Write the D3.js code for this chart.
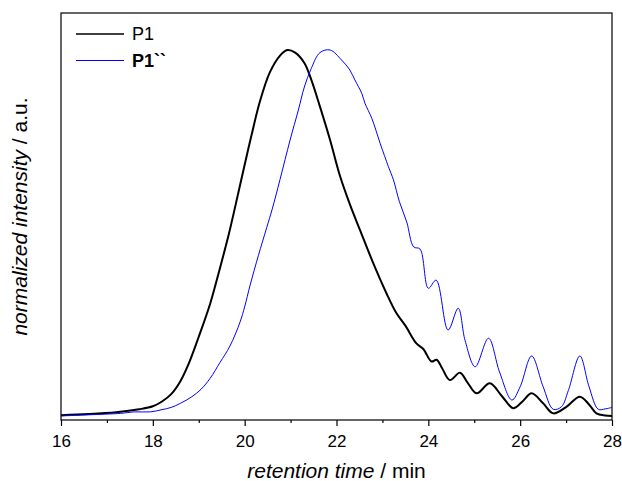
<!DOCTYPE html>
<html>
<head>
<meta charset="utf-8">
<script src="https://cdn.jsdelivr.net/npm/d3@7"></script>
<style>
body { margin: 0; background: #fff; }
svg text { font-family: Arial, "Liberation Sans", sans-serif; }
</style>
</head>
<body>
<div id="chart"></div>
<script>
// retention time (min) and normalized intensity
var p1_time = [16.0, 16.6, 17.2, 17.7, 18.0, 18.2, 18.4, 18.6, 18.8, 19.0, 19.25, 19.45, 19.65, 19.8,
	20.0, 20.15, 20.33, 20.55, 20.77, 20.93, 21.1, 21.3, 21.45, 21.64, 21.86, 22.08, 22.3, 22.51,
	22.8, 23.09, 23.3, 23.5, 23.74, 23.89, 24.07, 24.18, 24.3, 24.47, 24.69, 24.85, 25.05, 25.34,
	25.6, 25.85, 26.05, 26.25, 26.5, 26.72, 27.0, 27.3, 27.5, 27.66, 27.85, 28.0];
var p1_value = [0.013, 0.016, 0.021, 0.029, 0.037, 0.050, 0.070, 0.105, 0.158, 0.225, 0.315, 0.405, 0.500, 0.580,
	0.690, 0.770, 0.860, 0.940, 0.985, 1.000, 0.993, 0.965, 0.920, 0.847, 0.757, 0.658, 0.580, 0.514,
	0.424, 0.342, 0.290, 0.255, 0.207, 0.192, 0.158, 0.163, 0.140, 0.108, 0.128, 0.102, 0.072, 0.099,
	0.065, 0.032, 0.050, 0.072, 0.045, 0.018, 0.035, 0.063, 0.042, 0.018, 0.012, 0.011];

var p1b_time = [16.0, 16.6, 17.3, 17.6, 17.95, 18.2, 18.4, 18.6, 18.85, 19.05, 19.25, 19.46, 19.68, 19.9,
	20.0, 20.12, 20.3, 20.48, 20.6, 20.77, 20.99, 21.17, 21.3, 21.45, 21.64, 21.86, 22.11, 22.29,
	22.4, 22.55, 22.62, 22.77, 22.95, 23.13, 23.24, 23.37, 23.53, 23.68, 23.82, 24.0, 24.17, 24.43,
	24.65, 24.8, 25.02, 25.31, 25.55, 25.82, 26.0, 26.25, 26.5, 26.72, 26.9, 27.05, 27.3, 27.5,
	27.7, 27.85, 28.0];
var p1b_value = [0.011, 0.014, 0.018, 0.022, 0.022, 0.028, 0.034, 0.045, 0.063, 0.083, 0.113, 0.155, 0.200, 0.265,
	0.306, 0.365, 0.445, 0.520, 0.570, 0.650, 0.757, 0.838, 0.900, 0.950, 0.993, 1.000, 0.973, 0.946,
	0.919, 0.883, 0.856, 0.815, 0.748, 0.685, 0.649, 0.590, 0.535, 0.468, 0.462, 0.356, 0.378, 0.243,
	0.302, 0.215, 0.144, 0.221, 0.130, 0.054, 0.090, 0.173, 0.090, 0.029, 0.036, 0.080, 0.173, 0.090,
	0.029, 0.030, 0.034];

var x_major = [16, 18, 20, 22, 24, 26, 28];
var x_minor = [17, 19, 21, 23, 25, 27];

var series_names = ["P1", "P1``"];
var series_colors = ["#000000", "#0000ff"];

var margin = {top: 13, right: 10, bottom: 61, left: 61},
	width = 622 - margin.left - margin.right,
	height = 481 - margin.top - margin.bottom;

var svg = d3.select("#chart").append("svg")
	.attr("width", 622)
	.attr("height", 481)
  .append("g")
	.attr("transform", "translate(" + margin.left + "," + margin.top + ")");

var x = d3.scaleLinear().domain([16, 28]).range([0, width]);
var y = d3.scaleLinear().domain([0, 1.1]).range([height, 0]);

var line = d3.line()
	.x(function(d) { return x(d[0]); })
	.y(function(d) { return y(d[1]); })
	.curve(d3.curveCatmullRom.alpha(0.5));

var p1 = d3.zip(p1_time, p1_value);
var p1b = d3.zip(p1b_time, p1b_value);

svg.append("path")
	.datum(p1)
	.attr("d", line)
	.attr("fill", "none")
	.attr("stroke", series_colors[0])
	.attr("stroke-width", 2);

svg.append("path")
	.datum(p1b)
	.attr("d", line)
	.attr("fill", "none")
	.attr("stroke", series_colors[1])
	.attr("stroke-width", 1);

// frame
svg.append("rect")
	.attr("x", 0).attr("y", 0)
	.attr("width", width).attr("height", height)
	.attr("fill", "none")
	.attr("stroke", "black")
	.attr("stroke-width", 1.2);

// x axis, major + minor ticks
svg.append("g")
	.attr("transform", "translate(0," + height + ")")
	.call(d3.axisBottom(x).tickValues(x_major).tickSize(6).tickSizeOuter(0).tickPadding(9).tickFormat(d3.format("d")))
	.call(function(g) { g.select(".domain").remove(); })
	.call(function(g) {
		g.selectAll("line").attr("stroke-width", 1.2);
		g.selectAll("text").attr("font-size", "17px").attr("font-family", "Arial, 'Liberation Sans', sans-serif").attr("fill", "black");
	});

svg.append("g")
	.attr("transform", "translate(0," + height + ")")
	.call(d3.axisBottom(x).tickValues(x_minor).tickSize(3).tickSizeOuter(0).tickFormat(""))
	.call(function(g) { g.select(".domain").remove(); })
	.call(function(g) { g.selectAll("line").attr("stroke-width", 1.2); });

// axis titles
var xt = svg.append("text")
	.attr("x", width / 2)
	.attr("y", height + 58)
	.attr("text-anchor", "middle")
	.attr("font-size", "21px");
xt.append("tspan").attr("font-style", "italic").text("retention time");
xt.append("tspan").text(" / min");

var yt = svg.append("text")
	.attr("transform", "translate(" + (-34) + "," + (height / 2) + ") rotate(-90)")
	.attr("text-anchor", "middle")
	.attr("font-size", "21px");
yt.append("tspan").attr("font-style", "italic").text("normalized intensity");
yt.append("tspan").text(" / a.u.");

// legend
var legend = svg.append("g").attr("transform", "translate(15,21)");
series_names.forEach(function(name, i) {
	var row = legend.append("g").attr("transform", "translate(0," + (i * 26.5) + ")");
	row.append("line")
		.attr("x1", 0).attr("x2", 48)
		.attr("y1", 0).attr("y2", 0)
		.attr("stroke", series_colors[i])
		.attr("stroke-width", i == 0 ? 1.5 : 1);
	row.append("text")
		.attr("x", 56)
		.attr("y", 6)
		.attr("font-size", "18px")
		.attr("font-weight", i == 0 ? "normal" : "bold")
		.text(name);
});
</script>
</body>
</html>
